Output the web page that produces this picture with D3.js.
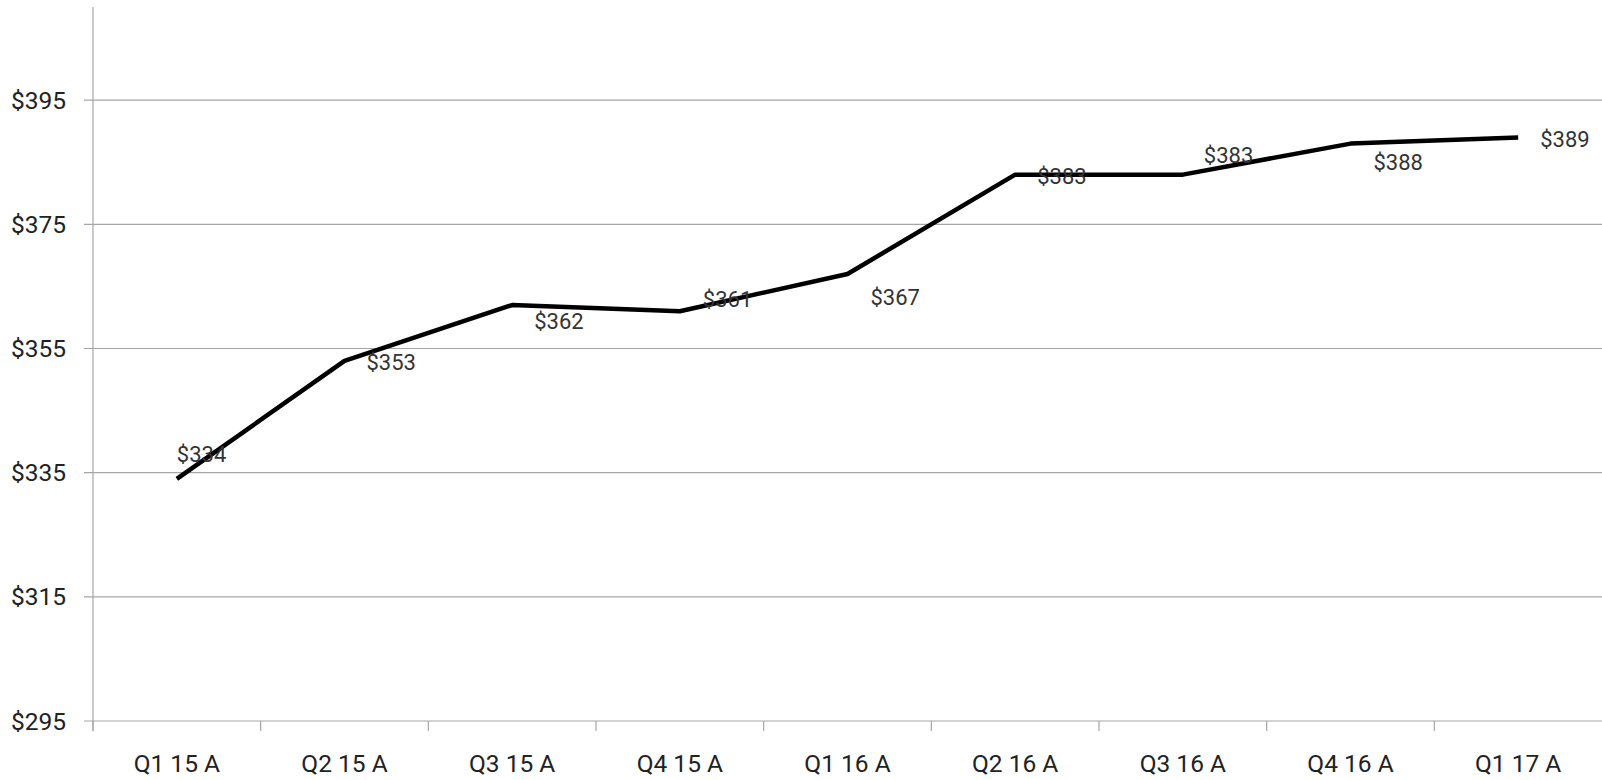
<!DOCTYPE html>
<html>
<head>
<meta charset="utf-8">
<script src="https://cdn.jsdelivr.net/npm/d3@7"></script>
<style>
  body { margin: 0; background: #fff; }
  text { font-family: Roboto, "Noto Sans", sans-serif; }
</style>
</head>
<body>
<div id="chart"></div>
<script>
// data
const quarters = ["Q1 15 A", "Q2 15 A", "Q3 15 A", "Q4 15 A", "Q1 16 A", "Q2 16 A", "Q3 16 A", "Q4 16 A", "Q1 17 A"];
const values = [334, 353, 362, 361, 367, 383, 383, 388, 389];
const yTicks = [295, 315, 335, 355, 375, 395];

// where each value label sits relative to its point (dx, dy)
const labelNudge = [[0, -25], [22, 1], [22, 16], [23, -12], [23, 23], [22, 2], [21, -19], [23, 19], [22, 2]];

const W = 1602, H = 780;
const margin = {top: 7, right: 0, bottom: 59, left: 93};

const svg = d3.select("#chart")
  .append("svg")
  .attr("width", W)
  .attr("height", H);

const x = d3.scaleBand()
  .domain(quarters)
  .range([margin.left, W - margin.right]);

const y = d3.scaleLinear()
  .domain([295, 410])
  .range([H - margin.bottom, margin.top]);

const gridColor = "#a6a6a6";

// horizontal gridlines
svg.append("g")
  .selectAll("line")
  .data(yTicks)
  .join("line")
  .attr("x1", margin.left - 9)
  .attr("x2", W)
  .attr("y1", d => y(d))
  .attr("y2", d => y(d))
  .attr("stroke", gridColor)
  .attr("stroke-width", 1.2);

// y axis line
svg.append("line")
  .attr("x1", margin.left).attr("x2", margin.left)
  .attr("y1", margin.top).attr("y2", y(295) + 10)
  .attr("stroke", gridColor)
  .attr("stroke-width", 1.2);

// y labels
svg.append("g")
  .selectAll("text")
  .data(yTicks)
  .join("text")
  .attr("x", 66)
  .attr("y", d => y(d))
  .attr("dy", "0.35em")
  .attr("text-anchor", "end")
  .attr("font-size", 24.5)
  .attr("fill", "#222")
  .text(d => "$" + d);

// x ticks at band edges
svg.append("g")
  .selectAll("line")
  .data(quarters)
  .join("line")
  .attr("x1", d => x(d))
  .attr("x2", d => x(d))
  .attr("y1", y(295))
  .attr("y2", y(295) + 10)
  .attr("stroke", gridColor)
  .attr("stroke-width", 1.2);

// x labels
svg.append("g")
  .selectAll("text")
  .data(quarters)
  .join("text")
  .attr("x", d => x(d) + x.bandwidth() / 2)
  .attr("y", 772)
  .attr("text-anchor", "middle")
  .attr("font-size", 24.5)
  .attr("fill", "#222")
  .text(d => d);

// line
const line = d3.line()
  .x((d, i) => x(quarters[i]) + x.bandwidth() / 2)
  .y(d => y(d));

svg.append("path")
  .datum(values)
  .attr("d", line)
  .attr("fill", "none")
  .attr("stroke", "#000")
  .attr("stroke-width", 4.5)
  .attr("stroke-linejoin", "round");

// value labels
svg.append("g")
  .selectAll("text")
  .data(values)
  .join("text")
  .attr("x", (d, i) => x(quarters[i]) + x.bandwidth() / 2 + labelNudge[i][0])
  .attr("y", (d, i) => y(d) + labelNudge[i][1])
  .attr("dy", "0.35em")
  .attr("font-size", 22)
  .attr("fill", "#333")
  .text(d => "$" + d);
</script>
</body>
</html>
